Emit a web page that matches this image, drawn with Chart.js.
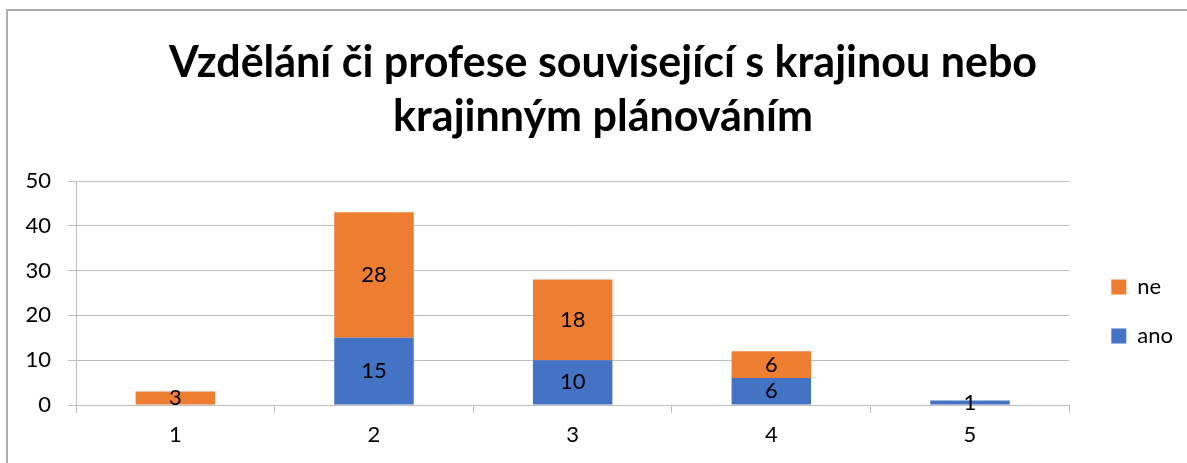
<!DOCTYPE html>
<html>
<head>
<meta charset="utf-8">
<script src="https://cdn.jsdelivr.net/npm/chart.js@4.4.1/dist/chart.umd.min.js"></script>
<style>
    body { margin: 0; background: #fff; }
    canvas { display: block; }
</style>
</head>
<body>
<canvas id="chart" width="1187" height="463"></canvas>
<script>
const categories = ["1", "2", "3", "4", "5"];
const anoValues = [0, 15, 10, 6, 1];
const neValues = [3, 28, 18, 6, 0];
const titleLines = ["Vzdělání či profese související s krajinou nebo", "krajinným plánováním"];

const FONT = "Lato";
const GRID = "#bdbdbd";

// frame around the chart, as in the spreadsheet export (left and top edges only visible)
const framePlugin = {
    id: "frame",
    beforeDraw(chart) {
        const ctx = chart.ctx;
        ctx.save();
        ctx.strokeStyle = "#adadad";
        ctx.lineWidth = 2;
        ctx.beginPath();
        ctx.moveTo(7, chart.height);
        ctx.lineTo(7, 10);
        ctx.lineTo(chart.width, 10);
        ctx.stroke();
        ctx.restore();
    }
};

// value labels in the middle of each bar segment
const valueLabels = {
    id: "valueLabels",
    afterDatasetsDraw(chart) {
        const ctx = chart.ctx;
        ctx.save();
        ctx.font = `22px ${FONT}`;
        ctx.fillStyle = "#000";
        ctx.textAlign = "center";
        ctx.textBaseline = "middle";
        chart.data.datasets.forEach((ds, i) => {
            const meta = chart.getDatasetMeta(i);
            meta.data.forEach((bar, j) => {
                let v = ds.data[j];
                if (!v) return;
                let y = (bar.y + bar.base) / 2;
                ctx.fillText(String(v), bar.x, y);
            });
        });
        ctx.restore();
    }
};

const ctx = document.getElementById("chart");

new Chart(ctx, {
    type: "bar",
    data: {
        labels: categories,
        datasets: [
            {
                label: "ano",
                data: anoValues,
                backgroundColor: "#4472C4",
                barPercentage: 0.4,
                categoryPercentage: 1
            },
            {
                label: "ne",
                data: neValues,
                backgroundColor: "#ED7D31",
                barPercentage: 0.4,
                categoryPercentage: 1
            }
        ]
    },
    options: {
        responsive: false,
        animation: false,
        devicePixelRatio: 1,
        layout: {
            padding: {left: 23, right: 4, top: 0, bottom: 0}
        },
        plugins: {
            title: {
                display: true,
                text: titleLines,
                color: "#000",
                font: {family: FONT, size: 43, weight: "bold", lineHeight: "54px"},
                padding: {top: 36, bottom: 37}
            },
            legend: {
                position: "right",
                fullSize: false,
                reverse: true,
                title: {
                    display: true,
                    text: " ",
                    font: {size: 10, lineHeight: "13px"},
                    padding: {top: 12, bottom: 12}
                },
                labels: {
                    color: "#000",
                    font: {family: FONT, size: 22},
                    boxWidth: 15,
                    boxHeight: 15,
                    padding: 27
                }
            },
            tooltip: {enabled: false}
        },
        scales: {
            x: {
                stacked: true,
                grid: {
                    drawOnChartArea: false,
                    drawTicks: true,
                    tickLength: 8,
                    color: GRID
                },
                border: {color: GRID},
                ticks: {
                    color: "#000",
                    font: {family: FONT, size: 22},
                    padding: 9
                },
                afterFit: (scale) => { scale.height = 58; }
            },
            y: {
                stacked: true,
                min: 0,
                max: 50,
                ticks: {
                    stepSize: 10,
                    color: "#000",
                    font: {family: FONT, size: 22},
                    padding: 17
                },
                grid: {
                    color: GRID,
                    tickLength: 8
                },
                border: {color: GRID},
                afterFit: (scale) => { scale.width = 76 - 23; }
            },
            // empty strip between plot and legend
            gap: {
                position: "right",
                display: true,
                ticks: {display: false},
                grid: {display: false},
                border: {display: false},
                afterFit: (scale) => { scale.width = 15; }
            }
        }
    },
    plugins: [framePlugin, valueLabels]
});
</script>
</body>
</html>
